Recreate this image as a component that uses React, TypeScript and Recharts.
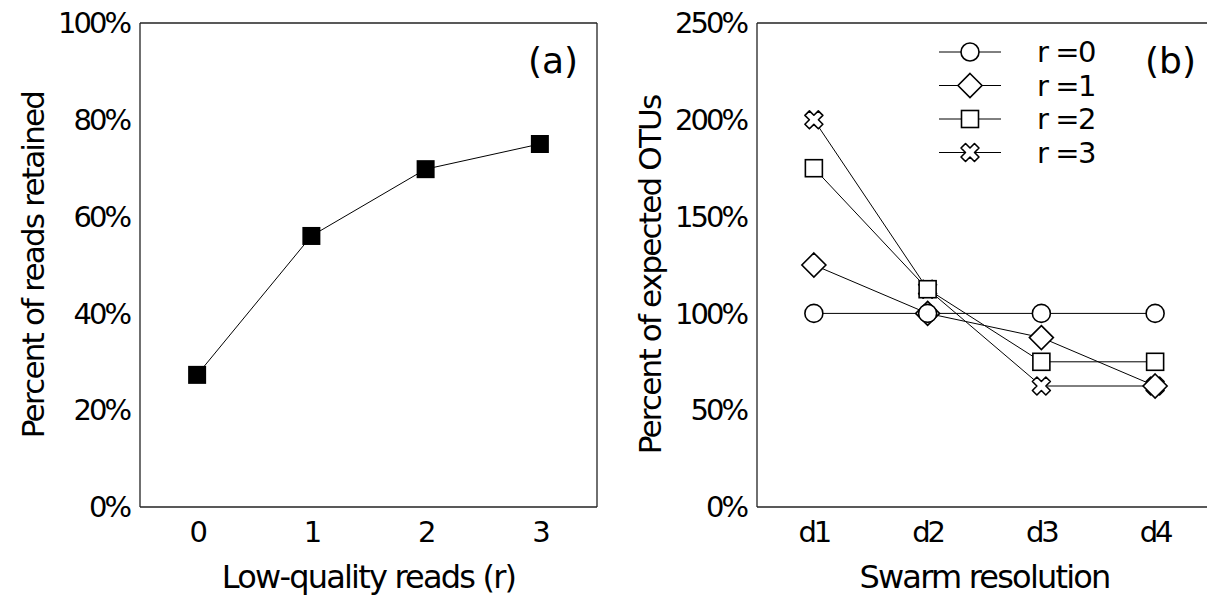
import { LineChart, Line, XAxis, YAxis, ReferenceLine } from 'recharts';

// panel (a)
const reads = [0, 1, 2, 3];
const retained = [27.3, 56.0, 69.8, 75.0];
const retainedTicks = [0, 20, 40, 60, 80, 100];

// panel (b)
const resolutions = ['d1', 'd2', 'd3', 'd4'];
const otuR0 = [100, 100, 100, 100];
const otuR1 = [125, 100, 87.5, 62.5];
const otuR2 = [175, 112.5, 75, 75];
const otuR3 = [200, 112.5, 62.5, 62.5];
const otuTicks = [0, 50, 100, 150, 200, 250];

const series = [
  { key: 'r0', label: 'r =0', values: otuR0, marker: 'circle' },
  { key: 'r1', label: 'r =1', values: otuR1, marker: 'diamond' },
  { key: 'r2', label: 'r =2', values: otuR2, marker: 'square' },
  { key: 'r3', label: 'r =3', values: otuR3, marker: 'cross' },
];

const FONT = '"DejaVu Sans", sans-serif';
const tickStyle = { fontFamily: FONT, fontSize: 29, fill: '#000', letterSpacing: -3 };
const AXIS = '#222';

const dataA = reads.map((r, i) => ({ r, pct: retained[i] }));
const dataB = resolutions.map((d, i) => {
  const row: Record<string, number | string> = { x: i + 1, name: d };
  series.forEach((s) => (row[s.key] = s.values[i]));
  return row;
});

function marker(kind: string, cx: number, cy: number, key?: string) {
  const sw = 1.6;
  if (kind === 'circle') {
    return <circle key={key} cx={cx} cy={cy} r={9} fill="#fff" stroke="#000" strokeWidth={sw} />;
  }
  if (kind === 'diamond') {
    const d = 12;
    return (
      <polygon key={key} points={`${cx},${cy - d} ${cx + d},${cy} ${cx},${cy + d} ${cx - d},${cy}`}
        fill="#fff" stroke="#000" strokeWidth={sw} />
    );
  }
  if (kind === 'square') {
    return <rect key={key} x={cx - 8.5} y={cy - 8.5} width={17} height={17} fill="#fff" stroke="#000" strokeWidth={sw} />;
  }
  if (kind === 'filled') {
    return <rect key={key} x={cx - 9} y={cy - 9} width={18} height={18} fill="#000" />;
  }
  // cross: rotated plus outline
  const a = 3.2, L = 9.5;
  const pts = [[-a, -L], [a, -L], [a, -a], [L, -a], [L, a], [a, a], [a, L], [-a, L], [-a, a], [-L, a], [-L, -a], [-a, -a]]
    .map(([x, y]) => `${x},${y}`).join(' ');
  return (
    <polygon key={key} points={pts} transform={`translate(${cx},${cy}) rotate(45)`}
      fill="#fff" stroke="#000" strokeWidth={sw} strokeLinejoin="round" />
  );
}

function yLabel(text: string, dx: number, dy = 0) {
  return (props: any) => {
    const { x, y, height } = props.viewBox;
    const cx = x + dx;
    const cy = y + height / 2 + dy;
    return (
      <text x={cx} y={cy} transform={`rotate(-90, ${cx}, ${cy})`} textAnchor="middle" dominantBaseline="central"
        style={{ fontFamily: FONT, fontSize: 31, letterSpacing: -1.8 }} fill="#000">
        {text}
      </text>
    );
  };
}

function xLabel(text: string, dy: number) {
  return (props: any) => {
    const { x, y, width } = props.viewBox;
    return (
      <text x={x + width / 2} y={y + dy} textAnchor="middle"
        style={{ fontFamily: FONT, fontSize: 32, letterSpacing: -1.8 }} fill="#000">
        {text}
      </text>
    );
  };
}

function LegendB() {
  return (
    <svg width={200} height={140} style={{ position: 'absolute', left: 939, top: 32 }}>
      {series.map((s, i) => {
        const cy = 20 + i * 33.5;
        return (
          <g key={s.key}>
            <line x1={0} x2={62} y1={cy} y2={cy} stroke="#000" strokeWidth={1} />
            {marker(s.marker, 31, cy)}
            <text x={98} y={cy} dominantBaseline="central" style={{ fontFamily: FONT, fontSize: 29, letterSpacing: -1.5 }}>
              {s.label}
            </text>
          </g>
        );
      })}
    </svg>
  );
}

const panelTag = { position: 'absolute' as const, fontFamily: FONT, fontSize: 36, lineHeight: '36px', color: '#000' };

export default function App() {
  return (
    <div style={{ position: 'fixed', left: 0, top: 0, width: 1207, height: 597, overflow: 'hidden', background: '#fff' }}>
      <div style={{ position: 'absolute', left: 0, top: 0 }}>
        <LineChart width={600} height={597} data={dataA} margin={{ top: 23, right: 3, bottom: 0, left: 0 }}>
          <XAxis dataKey="r" type="number" domain={[-0.5, 3.5]} ticks={reads} tickLine={false} tickSize={0}
            tickMargin={14} height={90} axisLine={{ stroke: AXIS, strokeWidth: 1.3 }} tick={tickStyle}
            label={{ content: xLabel('Low-quality reads (r)', 81) }} />
          <YAxis type="number" domain={[0, 100]} ticks={retainedTicks} tickFormatter={(v) => `${v}%`} width={140}
            tickLine={false} tickSize={0} tickMargin={11} axisLine={{ stroke: AXIS, strokeWidth: 1.3 }} tick={tickStyle}
            interval={0} label={{ content: yLabel('Percent of reads retained', 33) }} />
          <ReferenceLine y={100} stroke={AXIS} strokeWidth={1.3} />
          <ReferenceLine x={3.5} stroke={AXIS} strokeWidth={1.3} />
          <Line dataKey="pct" stroke="#000" strokeWidth={1} isAnimationActive={false} activeDot={false}
            dot={(p: any) => marker('filled', p.cx, p.cy, `a-${p.index}`)} />
        </LineChart>
      </div>
      <div style={{ ...panelTag, left: 528, top: 43 }}>(a)</div>

      <div style={{ position: 'absolute', left: 600, top: 0 }}>
        <LineChart width={612} height={597} data={dataB} margin={{ top: 23, right: 0, bottom: 0, left: 0 }}>
          <XAxis dataKey="x" type="number" domain={[0.5, 4.5]} ticks={[1, 2, 3, 4]}
            tickFormatter={(v) => resolutions[v - 1]} tickLine={false} tickSize={0} tickMargin={14} height={90}
            axisLine={{ stroke: AXIS, strokeWidth: 1.3 }} tick={tickStyle}
            label={{ content: xLabel('Swarm resolution', 81) }} />
          <YAxis type="number" domain={[0, 250]} ticks={otuTicks} tickFormatter={(v) => `${v}%`} width={157}
            tickLine={false} tickSize={0} tickMargin={11} axisLine={{ stroke: AXIS, strokeWidth: 1.3 }} tick={tickStyle}
            interval={0} label={{ content: yLabel('Percent of expected OTUs', 50, 10) }} />
          <ReferenceLine y={250} stroke={AXIS} strokeWidth={1.3} />
          {[...series].reverse().map((s) => (
            <Line key={s.key} dataKey={s.key} stroke="#000" strokeWidth={1} isAnimationActive={false} activeDot={false}
              dot={(p: any) => marker(s.marker, p.cx, p.cy, `${s.key}-${p.index}`)} />
          ))}
        </LineChart>
      </div>
      <LegendB />
      <div style={{ ...panelTag, left: 1145, top: 43 }}>(b)</div>
    </div>
  );
}
